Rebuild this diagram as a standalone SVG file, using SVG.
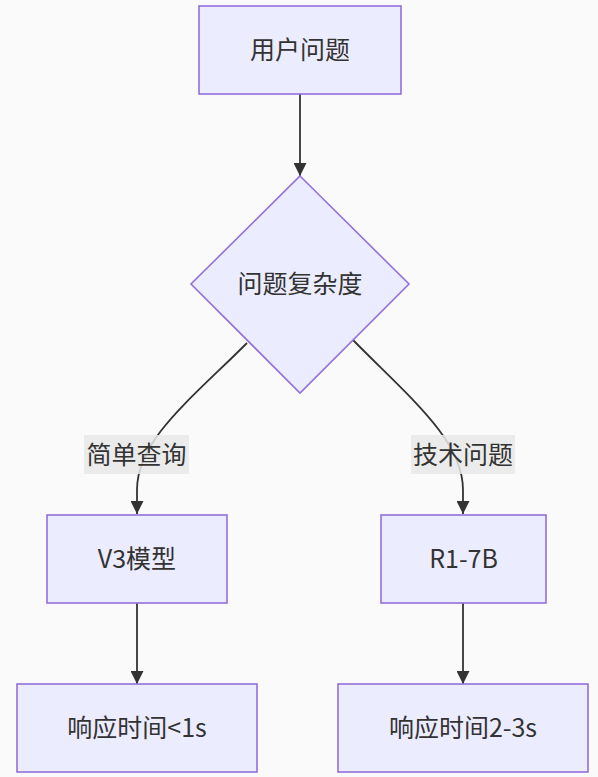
<svg xmlns="http://www.w3.org/2000/svg" width="598" height="777" viewBox="0 0 598 777">
<defs>
<style>
.node{fill:#ECECFF;stroke:#9370DB;stroke-width:1.6}
.lbl{font-family:"Noto Sans CJK SC","Noto Sans",sans-serif;font-size:25px;fill:#333;text-anchor:middle;dominant-baseline:central}
.edge{fill:none;stroke:#333;stroke-width:1.8}
.elbg{fill:#e8e8e8;fill-opacity:0.85}
</style>
<marker id="arr" viewBox="0 0 10 10" refX="10" refY="5" markerWidth="13" markerHeight="13" markerUnits="userSpaceOnUse" orient="auto">
<path d="M0,0 L10,5 L0,10 z" fill="#333"/>
</marker>
</defs>
<rect width="598" height="777" fill="#fafafa"/>
<g id="connectors">
<path class="edge" d="M300,94 L300,176" marker-end="url(#arr)"/>
<path class="edge" d="M247,343 C190,400 137,440 137,490 L137,514" marker-end="url(#arr)"/>
<path class="edge" d="M353,340 C410,398 463,440 463,490 L463,514" marker-end="url(#arr)"/>
<path class="edge" d="M137,603 L137,684" marker-end="url(#arr)"/>
<path class="edge" d="M463,603 L463,684" marker-end="url(#arr)"/>
</g>
<g id="edge-label-simple">
<rect class="elbg" x="84" y="435" width="105" height="39"/>
<text class="lbl" x="136.5" y="453">简单查询</text>
</g>
<g id="edge-label-tech">
<rect class="elbg" x="411" y="435" width="104" height="39"/>
<text class="lbl" x="463" y="453">技术问题</text>
</g>
<g id="node-user">
<rect class="node" x="199" y="6" width="202" height="88"/>
<text class="lbl" x="300" y="48">用户问题</text>
</g>
<g id="node-complexity">
<polygon class="node" points="300,176 409,284 300,393 191,284"/>
<text class="lbl" x="300" y="282">问题复杂度</text>
</g>
<g id="node-v3">
<rect class="node" x="47" y="515" width="180" height="88"/>
<text class="lbl" x="137" y="557">V3模型</text>
</g>
<g id="node-r1">
<rect class="node" x="381" y="515" width="165" height="88"/>
<text class="lbl" x="463.5" y="557">R1-7B</text>
</g>
<g id="node-fast">
<rect class="node" x="17" y="684" width="240" height="88"/>
<text class="lbl" x="137" y="726">响应时间&lt;1s</text>
</g>
<g id="node-slow">
<rect class="node" x="338" y="684" width="250" height="88"/>
<text class="lbl" x="463" y="726">响应时间2-3s</text>
</g>
</svg>
